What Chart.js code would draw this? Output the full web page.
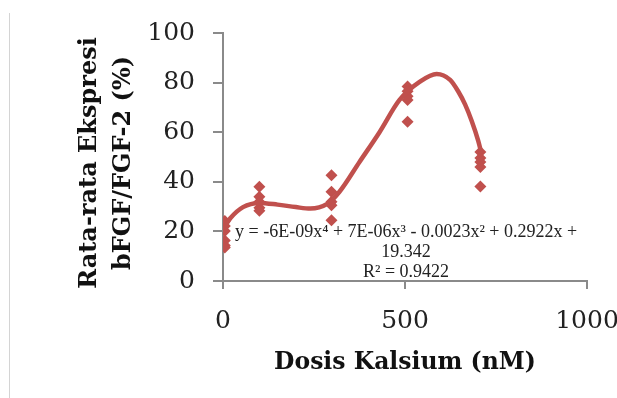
<!DOCTYPE html>
<html>
<head>
<meta charset="utf-8">
<script src="https://cdn.jsdelivr.net/npm/chart.js@4/dist/chart.umd.min.js"></script>
<style>
  body { margin: 0; background: #fff; }
  #wrap { position: relative; width: 617px; height: 398px; }
  #edge { position: absolute; left: 9px; top: 13px; width: 1px; height: 385px; background: #d4d4d4; }
</style>
</head>
<body>
<div id="wrap">
  <div id="edge"></div>
  <canvas id="dosis" width="617" height="398"></canvas>
</div>
<script>
// Dose levels (nM) and replicate readings
const doses = [5, 100, 298, 507, 707];
const rep0 = [24.2, 22.2, 20.2, 16.3, 14.3, 13.5];
const rep100 = [38, 34, 32, 29.5, 28.3];
const rep300 = [42.6, 36, 32, 30.5, 24.5];
const rep500 = [78.4, 76.5, 74.5, 73, 64.2];
const rep700 = [52, 49.6, 48, 46, 38.1];

// Polynomial trendline
const trendX = [5, 20, 55, 100, 150, 200, 240, 285, 320, 375, 430, 485, 541, 587, 624, 646, 665, 683, 701, 710];
const trendY = [22, 25.3, 29.8, 31.5, 30.8, 29.8, 29.2, 31, 36, 48, 60, 73, 80.4, 83.5, 81.1, 76.5, 71.2, 64.6, 56.6, 51.5];

const xTicks = [0, 500, 1000];
const yTicks = [0, 20, 40, 60, 80, 100];

const eqLines = [
  "y = -6E-09x\u2074 + 7E-06x\u00b3 - 0.0023x\u00b2 + 0.2922x +",
  "19.342",
  "R\u00b2 = 0.9422"
];

const red = "#c0504d";
const axisGray = "#8a8a8a";

var groups = [rep0, rep100, rep300, rep500, rep700];
var points = [];
groups.forEach((g, i) => {
  g.forEach((v) => points.push({ x: doses[i], y: v }));
});
var trend = trendX.map((x, i) => ({ x: x, y: trendY[i] }));

// equation text under the curve
const eqLabel = {
  id: "eqLabel",
  afterDatasetsDraw(chart) {
    const ctx = chart.ctx;
    const xs = chart.scales.x, ys = chart.scales.y;
    const cx = xs.getPixelForValue(503);
    const cy = ys.getPixelForValue(19.6);
    ctx.save();
    ctx.font = "18px 'Liberation Serif'";
    ctx.fillStyle = "#222";
    ctx.textAlign = "center";
    ctx.textBaseline = "middle";
    eqLines.forEach((t, i) => ctx.fillText(t, cx, cy + i * 20));
    ctx.restore();
  },
};

new Chart(document.getElementById("dosis"), {
  type: "scatter",
  data: {
    datasets: [
      {
        type: "line",
        data: trend,
        borderColor: red,
        borderWidth: 4.5,
        pointRadius: 0,
        cubicInterpolationMode: "monotone",
        fill: false,
      },
      {
        data: points,
        pointStyle: "rectRot",
        pointRadius: 6,
        pointHoverRadius: 6,
        backgroundColor: red,
        borderColor: red,
        borderWidth: 0,
      },
    ],
  },
  options: {
    responsive: false,
    animation: false,
    layout: { padding: { left: 0, right: 30, top: 29, bottom: 0 } },
    plugins: { legend: { display: false }, tooltip: { enabled: false } },
    scales: {
      x: {
        type: "linear",
        min: 0,
        max: 1000,
        afterBuildTicks: (s) => { s.ticks = xTicks.map((v) => ({ value: v })); },
        afterFit: (s) => { s.height = 117; s.paddingRight = 30; },
        border: { color: axisGray, width: 2 },
        grid: { drawOnChartArea: false, tickLength: 8, color: axisGray, lineWidth: 2 },
        ticks: {
          color: "#222",
          padding: 17,
          font: { family: "'DejaVu Serif'", size: 25 },
          callback: (v) => String(v),
        },
        title: {
          display: true,
          text: "Dosis Kalsium (nM)",
          color: "#111",
          font: { family: "'DejaVu Serif'", size: 23.5, weight: "bold" },
          padding: { top: 0, bottom: 21 },
        },
      },
      y: {
        min: 0,
        max: 100,
        afterBuildTicks: (s) => { s.ticks = yTicks.map((v) => ({ value: v })); },
        afterFit: (s) => { s.width = 223; },
        border: { color: axisGray, width: 2 },
        grid: { drawOnChartArea: false, tickLength: 10, color: axisGray, lineWidth: 2 },
        ticks: { color: "#222", padding: 18, font: { family: "'DejaVu Serif'", size: 25 } },
        title: {
          display: true,
          text: ["Rata-rata Ekspresi\u2002", "bFGF/FGF-2 (%)\u2002"],
          color: "#111",
          font: { family: "'DejaVu Serif'", size: 24, weight: "bold", lineHeight: 1.45 },
          padding: { top: 72, bottom: 0 },
        },
      },
    },
  },
  plugins: [eqLabel],
});
</script>
</body>
</html>
